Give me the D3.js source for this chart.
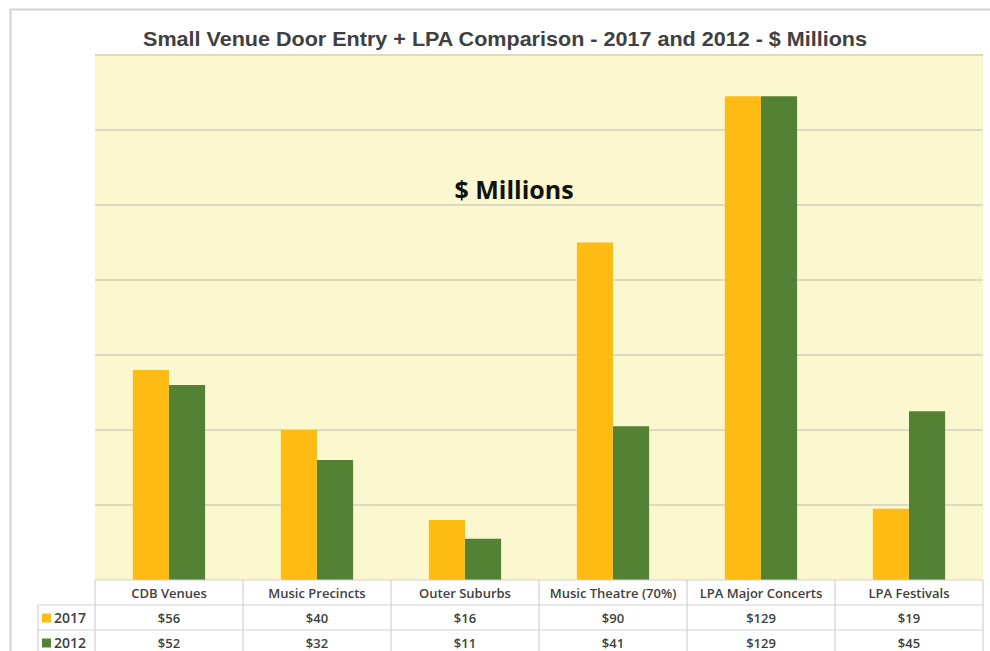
<!DOCTYPE html>
<html><head><meta charset="utf-8">
<script src="https://cdn.jsdelivr.net/npm/d3@7"></script>
<style>
html,body{margin:0;padding:0;background:#fff;}
svg{display:block;}
</style></head>
<body>
<script>
const categories = ["CDB Venues","Music Precincts","Outer Suburbs","Music Theatre (70%)","LPA Major Concerts","LPA Festivals"];
const seriesNames = ["2017","2012"];
const values2017 = [56,40,16,90,129,19];
const values2012 = [52,32,11,41,129,45];
const yTicks = [0,20,40,60,80,100,120,140];
const colors = ["#FDBB13","#548235"];

const W = 990, H = 651;
const svg = d3.select("body").append("svg").attr("width",W).attr("height",H);

// outer frame
svg.append("path").attr("d","M10.5,651 V9.5 H990").attr("fill","none").attr("stroke","#d4d4d4").attr("stroke-width",2);

const pLeft = 95, pRight = 983, pTop = 55, pBottom = 580;
const x = d3.scaleBand().domain(categories).range([pLeft,pRight]);
const y = d3.scaleLinear().domain([0,140]).range([pBottom,pTop]);
const xs = d3.scaleBand().domain(seriesNames).range([0,x.bandwidth()]).paddingOuter(1.05).paddingInner(0);

// plot background
svg.append("rect").attr("x",pLeft).attr("y",pTop).attr("width",pRight-pLeft).attr("height",pBottom-pTop).attr("fill","#FBF7CE");

// gridlines
svg.append("g").selectAll("line").data(yTicks.slice(1)).join("line")
  .attr("x1",pLeft).attr("x2",pRight).attr("y1",d=>y(d)).attr("y2",d=>y(d))
  .attr("stroke","#DEDAC0").attr("stroke-width",2);

// title
svg.append("text").attr("x",505).attr("y",46).attr("text-anchor","middle")
  .attr("font-family","Liberation Sans, Arial, sans-serif").attr("font-size",21).attr("font-weight","bold")
  .attr("textLength",724).attr("lengthAdjust","spacingAndGlyphs")
  .attr("fill","#404040").text("Small Venue Door Entry + LPA Comparison - 2017 and 2012 - $ Millions");

// $ Millions label
svg.append("text").attr("x",514).attr("y",199).attr("text-anchor","middle")
  .attr("font-family","Open Sans, Lato, sans-serif").attr("font-size",25).attr("font-weight","bold")
  .attr("fill","#111").text("$ Millions");

// bars
const data = [values2017, values2012];
const g = svg.append("g");
data.forEach((vals,si)=>{
  g.append("g").selectAll("rect").data(vals).join("rect")
    .attr("x",(d,i)=>x(categories[i])+xs(seriesNames[si]))
    .attr("width",xs.bandwidth())
    .attr("y",d=>y(d))
    .attr("height",d=>y(0)-y(d))
    .attr("fill",colors[si]);
});

// data table
const rowH = 25;
const tblTop = pBottom;
const legendLeft = 38;
const tcol = "#d2d2d2";
const tbl = svg.append("g");
tbl.append("g").selectAll("text").data(categories).join("text")
  .attr("x",d=>x(d)+x.bandwidth()/2).attr("y",tblTop+rowH/2+5)
  .attr("text-anchor","middle").attr("font-family","Open Sans, Lato, sans-serif")
  .attr("font-size",13).attr("font-weight","600").attr("fill","#404040").text(d=>d);
data.forEach((vals,si)=>{
  const ry = tblTop+rowH*(si+1);
  tbl.append("g").selectAll("text").data(vals).join("text")
    .attr("x",(d,i)=>x(categories[i])+x.bandwidth()/2).attr("y",ry+rowH/2+5)
    .attr("text-anchor","middle").attr("font-family","Open Sans, Lato, sans-serif")
    .attr("font-size",13).attr("font-weight","600").attr("fill","#404040").text(d=>"$"+d);
  tbl.append("rect").attr("x",legendLeft+4).attr("y",ry+rowH/2-4).attr("width",9).attr("height",9).attr("fill",colors[si]);
  tbl.append("text").attr("x",legendLeft+16).attr("y",ry+rowH/2+5)
    .attr("font-family","Open Sans, Lato, sans-serif").attr("font-size",14).attr("font-weight","600")
    .attr("fill","#404040").text(seriesNames[si]);
});
const vlines = categories.map(c=>x(c)).concat([pRight]);
tbl.append("g").selectAll("line").data(vlines).join("line")
  .attr("x1",d=>d).attr("x2",d=>d).attr("y1",tblTop).attr("y2",H)
  .attr("stroke",tcol).attr("stroke-width",1.2);
tbl.append("line").attr("x1",pLeft).attr("x2",pRight).attr("y1",tblTop).attr("y2",tblTop).attr("stroke",tcol).attr("stroke-width",1.2);
[1,2].forEach(r=>{
  tbl.append("line").attr("x1",legendLeft).attr("x2",pRight).attr("y1",tblTop+rowH*r).attr("y2",tblTop+rowH*r).attr("stroke",tcol).attr("stroke-width",1.2);
});
tbl.append("line").attr("x1",legendLeft).attr("x2",legendLeft).attr("y1",tblTop+rowH).attr("y2",H).attr("stroke",tcol).attr("stroke-width",1.2);
</script>
</body></html>
